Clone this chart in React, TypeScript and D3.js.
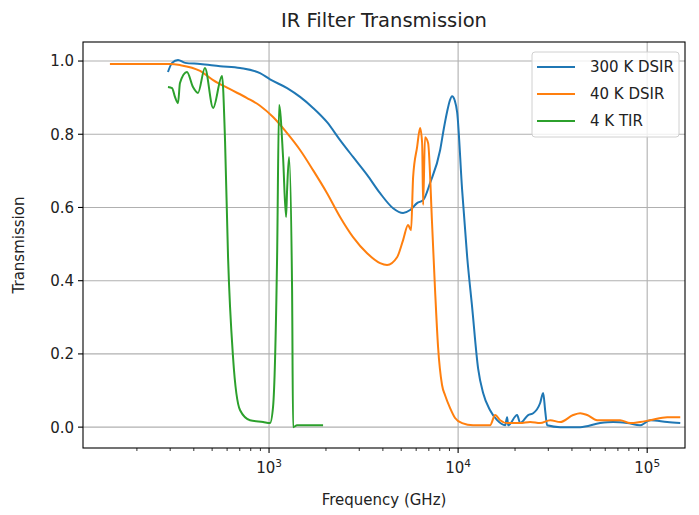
import React from 'react';
import * as d3 from 'd3';

const blueFreq = [292,307,330,360,432,551,703,896,1012,1246,1459,1709,2027,2375,2782,3301,3866,4529,5117,5572,6068,6531,7112,8035,8400,8750,9050,9290,9600,9885,10500,11170,11860,12760,13560,14760,16080,17740,18160,18400,20520,21290,23460,24940,27160,28180,28860,29580,34670,44260,56360,66070,78340,91840,103800,127600,149600];
const blueT = [0.970,0.995,1.003,0.995,0.992,0.986,0.981,0.967,0.950,0.926,0.902,0.872,0.833,0.784,0.738,0.689,0.639,0.598,0.585,0.593,0.612,0.620,0.667,0.757,0.815,0.862,0.893,0.904,0.892,0.860,0.648,0.464,0.328,0.160,0.093,0.046,0.019,0.005,0.027,0.005,0.033,0.011,0.033,0.038,0.066,0.093,0.046,0.005,0.000,0.000,0.011,0.014,0.011,0.005,0.019,0.014,0.011];

const orangeFreq = [144,299,338,432,506,622,765,896,1050,1246,1459,1709,2027,2375,2782,3301,3866,4210,4755,5117,5436,5640,5781,6068,6295,6452,6531,6683,6937,7281,7553,7834,8222,8531,9071,9636,10500,12000,14760,15700,16680,18160,21290,24040,27160,30690,34670,40580,44260,48190,54330,61380,71940,81280,91840,103800,127600,149600];
const orangeT = [0.992,0.992,0.989,0.973,0.948,0.923,0.899,0.878,0.847,0.803,0.757,0.702,0.639,0.574,0.519,0.475,0.448,0.443,0.464,0.511,0.552,0.538,0.683,0.765,0.817,0.776,0.607,0.792,0.776,0.557,0.374,0.219,0.115,0.087,0.052,0.025,0.011,0.005,0.005,0.033,0.019,0.011,0.011,0.014,0.011,0.019,0.014,0.033,0.038,0.033,0.019,0.019,0.019,0.011,0.014,0.019,0.027,0.027];

const greenFreq = [292,307,318,330,338,368,396,421,458,506,564,585,607,645,703,793,930,1012,1050,1103,1130,1186,1230,1246,1276,1324,1340,1406,1931];
const greenT = [0.929,0.926,0.902,0.885,0.940,0.970,0.929,0.913,0.981,0.872,0.959,0.784,0.464,0.191,0.046,0.019,0.014,0.011,0.055,0.464,0.880,0.738,0.574,0.648,0.738,0.374,0.000,0.005,0.005];

const seriesNames = ['300 K DSIR', '40 K DSIR', '4 K TIR'];
const seriesColors = ['#1f77b4', '#ff7f0e', '#2ca02c'];
const yTicks = [0, 0.2, 0.4, 0.6, 0.8, 1.0];
const xMajorExp = [3, 4, 5];
const title = 'IR Filter Transmission';
const xLabel = 'Frequency (GHz)';
const yLabel = 'Transmission';

export default function App() {
  const W = 699, H = 515;
  const left = 83, right = 685, top = 42, bottom = 448;
  const x = d3.scaleLog().domain([Math.pow(10, 2.016), Math.pow(10, 5.2)]).range([left, right]);
  const y = d3.scaleLinear().domain([-0.057, 1.052]).range([bottom, top]);
  const font = 'DejaVu Sans, sans-serif';
  const fs = 15;

  const series = [
    blueFreq.map((f, i) => [f, blueT[i]] as [number, number]),
    orangeFreq.map((f, i) => [f, orangeT[i]] as [number, number]),
    greenFreq.map((f, i) => [f, greenT[i]] as [number, number]),
  ];
  const line = d3.line<[number, number]>().x(d => x(d[0])).y(d => y(d[1])).curve(d3.curveMonotoneX);

  const [d0, d1] = x.domain();
  const minor: number[] = [];
  for (let e = 1; e <= 6; e++) {
    for (let m = 2; m <= 9; m++) {
      const v = m * Math.pow(10, e);
      if (v >= d0 && v <= d1) minor.push(v);
    }
  }
  const majors = xMajorExp.map(e => Math.pow(10, e)).filter(v => v >= d0 && v <= d1);

  const legX = 532, legY = 52, legW = 147, legH = 85;

  return (
    <svg width={W} height={H} style={{ position: 'absolute', left: 0, top: 0, background: '#fff' }} fontFamily={font}>
      <rect x={0} y={0} width={W} height={H} fill="#fff" />
      <defs>
        <clipPath id="plotclip">
          <rect x={left} y={top} width={right - left} height={bottom - top} />
        </clipPath>
      </defs>
      {majors.map(v => (
        <line key={'gx' + v} x1={x(v)} x2={x(v)} y1={top} y2={bottom} stroke="#b0b0b0" strokeWidth={1.1} />
      ))}
      {yTicks.map(v => (
        <line key={'gy' + v} x1={left} x2={right} y1={y(v)} y2={y(v)} stroke="#b0b0b0" strokeWidth={1.1} />
      ))}
      <g clipPath="url(#plotclip)">
        {series.map((s, i) => (
          <path key={i} d={line(s) || ''} fill="none" stroke={seriesColors[i]} strokeWidth={2} strokeLinejoin="round" strokeLinecap="butt" />
        ))}
      </g>
      <rect x={left} y={top} width={right - left} height={bottom - top} fill="none" stroke="#000" strokeWidth={1.1} />
      {yTicks.map(v => (
        <g key={'yt' + v}>
          <line x1={left - 5} x2={left} y1={y(v)} y2={y(v)} stroke="#000" strokeWidth={1.1} />
          <text x={left - 9} y={y(v)} dy="0.36em" textAnchor="end" fontSize={fs} fill="#222">{v.toFixed(1)}</text>
        </g>
      ))}
      {minor.map(v => (
        <line key={'mx' + v} x1={x(v)} x2={x(v)} y1={bottom} y2={bottom + 3} stroke="#000" strokeWidth={0.8} />
      ))}
      {majors.map(v => (
        <g key={'xt' + v}>
          <line x1={x(v)} x2={x(v)} y1={bottom} y2={bottom + 5} stroke="#000" strokeWidth={1.1} />
          <text x={x(v)} y={bottom + 25} textAnchor="middle" fontSize={fs} fill="#222">
            10<tspan fontSize={fs * 0.7} dy={-6}>{Math.round(Math.log10(v))}</tspan>
          </text>
        </g>
      ))}
      <text x={(left + right) / 2} y={505} textAnchor="middle" fontSize={fs} fill="#222">{xLabel}</text>
      <text transform={`translate(24,${(top + bottom) / 2}) rotate(-90)`} textAnchor="middle" fontSize={fs} fill="#222">{yLabel}</text>
      <text x={(left + right) / 2} y={27} textAnchor="middle" fontSize={19.5} fill="#222">{title}</text>
      <rect x={legX} y={legY} width={legW} height={legH} rx={3} fill="#fff" fillOpacity={0.8} stroke="#d0d0d0" strokeWidth={1} />
      {seriesNames.map((n, i) => (
        <g key={'lg' + i}>
          <line x1={legX + 5} x2={legX + 43} y1={legY + 15 + i * 27} y2={legY + 15 + i * 27} stroke={seriesColors[i]} strokeWidth={2} />
          <text x={legX + 58} y={legY + 15 + i * 27} dy="0.36em" fontSize={fs} fill="#222">{n}</text>
        </g>
      ))}
    </svg>
  );
}
